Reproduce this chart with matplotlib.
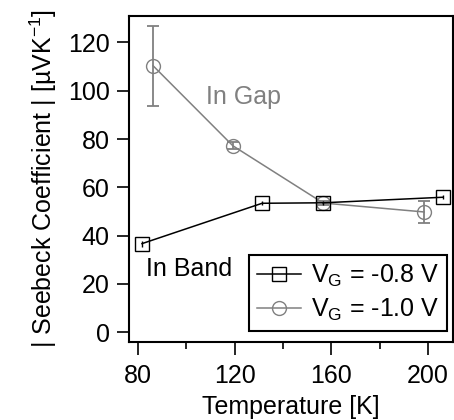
import matplotlib
matplotlib.use("Agg")
import matplotlib.pyplot as plt

plt.rcParams['font.family'] = ['Liberation Sans', 'DejaVu Sans']
plt.rcParams['mathtext.fontset'] = 'custom'
plt.rcParams['mathtext.rm'] = 'Liberation Sans'
plt.rcParams['mathtext.it'] = 'Liberation Sans'

# V_G = -0.8 V (in band)
temp_band = [81.6, 131.3, 156.6, 206.2]
seebeck_band = [36.7, 53.4, 53.6, 55.9]
err_band = [1.2, 0.8, 0.8, 0.8]

# V_G = -1.0 V (in gap)
temp_gap = [86.2, 119.2, 156.6, 198.4]
seebeck_gap = [110.3, 77.2, 53.5, 49.8]
err_gap = [16.5, 1.5, 1.0, 4.4]

xticks = [80, 120, 160, 200]
yticks = [0, 20, 40, 60, 80, 100, 120]

FS = 18
fig = plt.figure(figsize=(4.54, 4.2), dpi=100)
ax = fig.add_axes([0.2841, 0.1864, 0.713, 0.776])

gray = '#808080'
# error bars
ax.errorbar(temp_band, seebeck_band, yerr=err_band, fmt='none', ecolor='black',
            elinewidth=1.0, capsize=0, zorder=3)
ax.errorbar(temp_gap, seebeck_gap, yerr=err_gap, fmt='none', ecolor=gray,
            elinewidth=1.3, capsize=4, capthick=1.3, zorder=2)
# data lines with markers
ax.plot(temp_band, seebeck_band, color='black', lw=1.1, marker='s', ms=9.5,
        mfc='none', mec='black', mew=1.0, label=r'V$_\mathregular{G}$ = -0.8 V', zorder=3)
ax.plot(temp_gap, seebeck_gap, color=gray, lw=1.1, marker='o', ms=10,
        mfc='none', mec=gray, mew=1.0, label=r'V$_\mathregular{G}$ = -1.0 V', zorder=2)

ax.text(108.2, 97.5, 'In Gap', color=gray, fontsize=FS, va='center', ha='left')
ax.text(83.2, 26.1, 'In Band', color='black', fontsize=FS, va='center', ha='left')

ax.set_xlim(76.2, 210.2)
ax.set_ylim(-3.9, 131)
ax.set_xticks(xticks)
ax.set_xticks([100, 140, 180], minor=True)
ax.set_yticks(yticks)
ax.tick_params(axis='both', which='major', direction='out', length=9, width=1.2,
               labelsize=FS)
ax.tick_params(axis='x', which='major', pad=7)
ax.tick_params(axis='y', which='major', pad=5)
ax.tick_params(axis='x', which='minor', direction='out', length=5, width=1.2)
for s in ax.spines.values():
    s.set_linewidth(1.5)

ax.set_xlabel('Temperature [K]', fontsize=FS, labelpad=5)
ax.set_ylabel(r'| Seebeck Coefficient | [µVK$^{\mathregular{-1}}$]', fontsize=FS, labelpad=6)

leg = ax.legend(loc='lower right', bbox_to_anchor=(0.9833, 0.0328), fontsize=FS,
                frameon=True, fancybox=False, edgecolor='black', framealpha=1,
                handlelength=1.75, borderaxespad=0, borderpad=0.32,
                labelspacing=0.3, handletextpad=0.4)
leg.get_frame().set_linewidth(1.5)

fig.savefig('out.png', dpi=100)
